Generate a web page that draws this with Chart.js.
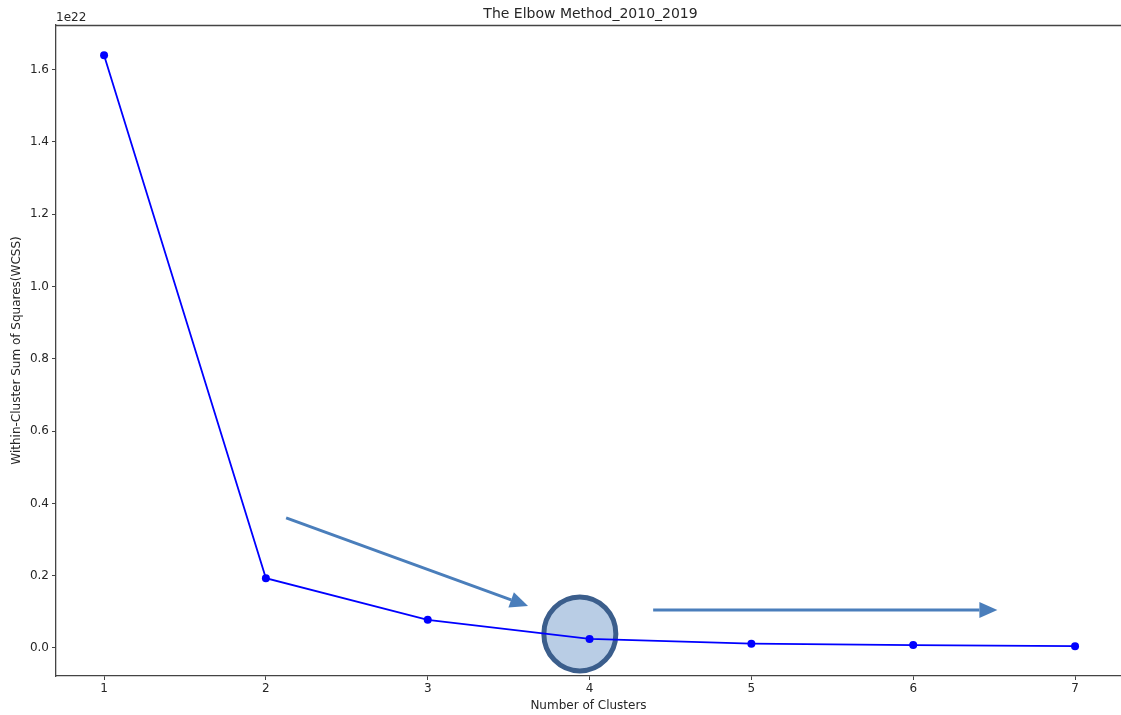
<!DOCTYPE html>
<html>
<head>
<meta charset="utf-8">
<title>The Elbow Method_2010_2019</title>
<script src="https://cdn.jsdelivr.net/npm/chart.js@4/dist/chart.umd.min.js"></script>
<style>
  html, body { margin: 0; padding: 0; background: #ffffff; overflow: hidden; }
  #wrap { width: 1121px; height: 715px; }
</style>
</head>
<body>
<div id="wrap"><canvas id="elbow"></canvas></div>
<script>
// Number of clusters k tried by K-Means
const clusters = [1, 2, 3, 4, 5, 6, 7];
// Within-cluster sum of squares for each k (in units of 1e22)
const wcss = [1.640, 0.193, 0.078, 0.025, 0.012, 0.008, 0.005];
const wcssExponent = 22;

// Axis ticks
const xTicks = [1, 2, 3, 4, 5, 6, 7];
const yTicks = [0.0, 0.2, 0.4, 0.6, 0.8, 1.0, 1.2, 1.4, 1.6];

// Axis ranges
const xRange = [0.703, 7.284];
const yRange = [-0.0775, 1.7234];

const chartTitle = 'The Elbow Method_2010_2019';

// Annotations (data coordinates): elbow highlight and trend arrows
const elbowHighlight = { x: 3.94, y: 0.039 };
const trendArrows = [
  { from: [2.125, 0.360], to: [3.62, 0.116] },
  { from: [4.393, 0.105], to: [6.52, 0.105] }
];

const FONT = "'DejaVu Sans', sans-serif";
const TEXT = '#262626';
const AXIS = '#444444';

function drawArrow(ctx, x0, y0, x1, y1) {
  const ang = Math.atan2(y1 - y0, x1 - x0);
  const headLen = 18, headHalf = 8;
  const bx = x1 - headLen * Math.cos(ang), by = y1 - headLen * Math.sin(ang);
  ctx.save();
  ctx.strokeStyle = '#4a7ebb';
  ctx.fillStyle = '#4a7ebb';
  ctx.lineWidth = 3;
  ctx.beginPath();
  ctx.moveTo(x0, y0);
  ctx.lineTo(bx, by);
  ctx.stroke();
  ctx.beginPath();
  ctx.moveTo(x1, y1);
  ctx.lineTo(bx + headHalf * Math.sin(ang), by - headHalf * Math.cos(ang));
  ctx.lineTo(bx - headHalf * Math.sin(ang), by + headHalf * Math.cos(ang));
  ctx.closePath();
  ctx.fill();
  ctx.restore();
}

const annotations = {
  id: 'elbowAnnotations',
  beforeDatasetsDraw(chart) {
    const { ctx, scales: { x, y } } = chart;
    // highlighted elbow
    const cx = x.getPixelForValue(elbowHighlight.x);
    const cy = y.getPixelForValue(elbowHighlight.y);
    ctx.save();
    ctx.beginPath();
    ctx.ellipse(cx, cy, 36, 37, 0, 0, Math.PI * 2);
    ctx.fillStyle = '#b9cde5';
    ctx.fill();
    ctx.lineWidth = 5;
    ctx.strokeStyle = '#3b5e8c';
    ctx.stroke();
    ctx.restore();
    // arrows
    trendArrows.forEach(a => {
      drawArrow(ctx,
        x.getPixelForValue(a.from[0]), y.getPixelForValue(a.from[1]),
        x.getPixelForValue(a.to[0]), y.getPixelForValue(a.to[1]));
    });
  },
  afterDraw(chart) {
    const { ctx, chartArea: area } = chart;
    ctx.save();
    // top spine
    ctx.strokeStyle = AXIS;
    ctx.lineWidth = 1.3;
    ctx.beginPath();
    ctx.moveTo(area.left, area.top + 0.5);
    ctx.lineTo(chart.width, area.top + 0.5);
    ctx.stroke();
    // title, centred over the axes
    ctx.fillStyle = TEXT;
    ctx.font = '14px ' + FONT;
    ctx.textAlign = 'center';
    ctx.textBaseline = 'middle';
    ctx.fillText(chartTitle, (area.left + area.right + 4) / 2, 14);
    // offset text for the y axis
    ctx.font = '12px ' + FONT;
    ctx.textAlign = 'left';
    ctx.textBaseline = 'bottom';
    ctx.fillText('1e' + wcssExponent, area.left, area.top - 1);
    ctx.restore();
  }
};

new Chart(document.getElementById('elbow'), {
  type: 'line',
  data: {
    datasets: [{
      data: clusters.map((k, i) => ({ x: k, y: wcss[i] })),
      borderColor: '#0000ff',
      backgroundColor: '#0000ff',
      borderWidth: 1.8,
      pointRadius: 4,
      pointHoverRadius: 4,
      pointBorderWidth: 0,
      tension: 0,
      fill: false
    }]
  },
  options: {
    responsive: true,
    maintainAspectRatio: false,
    animation: false,
    events: [],
    layout: { autoPadding: false, padding: { left: 0, right: 0, top: 25, bottom: 0 } },
    plugins: {
      legend: { display: false },
      tooltip: { enabled: false },
      title: { display: false }
    },
    scales: {
      x: {
        type: 'linear',
        min: xRange[0],
        max: xRange[1],
        afterBuildTicks(axis) { axis.ticks = xTicks.map(v => ({ value: v })); },
        afterFit(axis) { axis.height = 39; axis.paddingLeft = 0; axis.paddingRight = 0; },
        ticks: {
          color: TEXT,
          font: { family: FONT, size: 12 },
          padding: 2,
          maxRotation: 0,
          callback: v => String(v)
        },
        grid: { drawOnChartArea: false, drawTicks: true, tickLength: 4, color: AXIS, tickWidth: 1 },
        border: { display: true, color: AXIS, width: 1.3 },
        title: {
          display: true,
          text: 'Number of Clusters',
          color: TEXT,
          font: { family: FONT, size: 12 },
          padding: { top: 0, bottom: 2 }
        }
      },
      y: {
        type: 'linear',
        min: yRange[0],
        max: yRange[1],
        afterBuildTicks(axis) { axis.ticks = yTicks.map(v => ({ value: v })); },
        afterFit(axis) { axis.width = 56; axis.paddingTop = 0; axis.paddingBottom = 0; },
        ticks: {
          color: TEXT,
          font: { family: FONT, size: 12 },
          padding: 3,
          callback: v => Number(v).toFixed(1)
        },
        grid: { drawOnChartArea: false, drawTicks: true, tickLength: 4, color: AXIS, tickWidth: 1 },
        border: { display: true, color: AXIS, width: 1.3 },
        title: {
          display: true,
          text: 'Within-Cluster Sum of Squares(WCSS)',
          color: TEXT,
          font: { family: FONT, size: 12 },
          padding: { top: 10, bottom: 0 }
        }
      }
    }
  },
  plugins: [annotations]
});
</script>
</body>
</html>
